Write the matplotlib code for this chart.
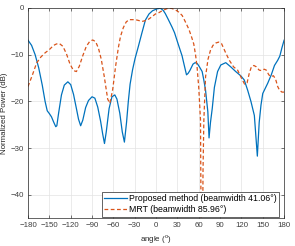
import matplotlib
matplotlib.use("Agg")
import matplotlib.pyplot as plt

# beam patterns (angle in deg, normalized power in dB)
prop_angle = [-180, -175, -170, -165, -160, -156, -153, -150, -147, -144, -141, -139.5,
              -137, -133, -129, -124, -120, -116, -112, -109, -106, -103, -99, -95,
              -90, -86, -82, -78, -75, -72.5, -70, -66, -62, -58, -55, -51, -47.5,
              -44.5, -41.5, -39, -36.5, -33, -29.5, -25, -20, -15, -10, -5, 1, 6,
              10, 13, 17, 22.5, 26, 30, 33, 36.5, 40, 42.8, 45, 47.5, 52, 55, 58,
              61, 64.8, 67, 69.5, 72.8, 74.5, 76.5, 79, 82, 86.5, 91, 98, 105, 112,
              119, 124, 128.8, 133.4, 138.2, 142.4, 145, 147.5, 150, 157, 162, 166.5,
              171, 174, 177, 180]
prop_db = [-6.9, -8.0, -10.0, -12.8, -16.5, -20.0, -22.0, -22.6, -23.3, -24.4, -25.4, -25.2,
           -22.5, -18.6, -16.5, -15.8, -16.4, -18.5, -21.5, -23.8, -25.2, -24.0, -21.3, -19.8,
           -19.0, -19.3, -21.2, -24.2, -27.0, -29.0, -26.5, -21.5, -19.0, -18.6, -19.5, -22.5, -26.5,
           -28.7, -24.5, -20.0, -16.3, -13.2, -10.8, -8.3, -5.4, -2.6, -1.3, -0.6, -0.2, -0.05,
           -0.5, -1.2, -2.4, -4.1, -5.3, -7.2, -8.6, -10.2, -12.5, -14.3, -14.0, -13.4, -12.0, -11.7, -11.9,
           -12.6, -13.6, -15.3, -17.5, -22.2, -27.8, -24.5, -21.5, -17.0, -13.6, -12.2, -11.7, -12.6, -13.6,
           -14.5, -15.4, -17.6, -20.0, -23.0, -31.7, -24.5, -20.8, -18.3, -16.1, -14.3, -12.3,
           -11.2, -10.3, -8.5, -6.9]

mrt_angle = [-180, -174, -168, -162, -156, -150, -144, -140, -136, -131, -126, -121, -116,
             -112, -108, -103, -98, -93, -89, -85, -81, -77, -73, -70, -68, -65, -61, -57,
             -53, -50, -46, -42, -38, -34, -29, -24, -20, -15, -10.5, -6, -1, 4, 8.5, 13,
             17.8, 22, 27.3, 32, 36.7, 41, 46, 49.5, 53, 55.5, 57.6, 60, 62.5, 64.5, 66,
             67.2, 69.6, 73, 76.6, 80, 84, 88, 92, 97.3, 103, 109, 114.7, 120, 124.5, 128,
             131, 134, 137.5, 141, 145, 148.5, 152, 155, 158.5, 161.6, 165, 168, 171, 173.6,
             177, 180]
mrt_db = [-16.8, -14.4, -11.8, -10.5, -9.6, -8.9, -8.0, -7.7, -7.6, -8.2, -9.8, -12.0, -13.4,
          -13.6, -12.5, -10.2, -8.2, -7.1, -6.85, -7.2, -8.6, -11.0, -14.5, -17.5, -19.5, -20.4, -17.5, -12.6,
          -8.5, -6.1, -4.2, -3.0, -2.5, -2.5, -2.5, -2.7, -2.9, -2.7, -2.4, -1.9, -1.3, -1.0, -0.6, -0.3,
          0.0, -0.1, -0.4, -0.9, -1.6, -2.9, -4.5, -6.0, -7.7, -10.0, -12.5, -17.0, -24.0, -80.0, -35.0,
          -24.0, -14.7, -11.0, -9.0, -8.0, -7.5, -7.3, -7.6, -9.4, -11.2, -12.6, -13.3, -15.0, -16.3, -16.0,
          -14.0, -12.6, -12.3, -12.6, -13.3, -13.4, -13.1, -13.3, -14.3, -14.7, -14.5, -15.2, -16.8, -17.6,
          -18.0, -18.0]

labels = ["Proposed method (beamwidth 41.06\u00b0)", "MRT (beamwidth 85.96\u00b0)"]
xticks = list(range(-180, 181, 30))
yticks = [0, -10, -20, -30, -40]

plt.rcParams['font.family'] = ['Liberation Sans', 'DejaVu Sans']
plt.rcParams['mathtext.fontset'] = 'custom'
plt.rcParams['mathtext.rm'] = 'Liberation Sans'

fig = plt.figure(figsize=(2.95, 2.46), dpi=100)
ax = fig.add_axes([0.095, 0.1126, 0.868, 0.855])

ax.plot(prop_angle, prop_db, color='#0072BD', lw=0.9, label=labels[0])
ax.plot(mrt_angle, mrt_db, color='#D95319', lw=0.9, ls=(0, (3, 2)), label=labels[1])

ax.set_xlim(-180, 180)
ax.set_ylim(-45, 0)
ax.set_xticks(xticks)
ax.set_yticks(yticks)
ax.tick_params(direction='in', length=2, width=0.5, labelsize=5.7, colors='#404040',
               top=True, right=True, pad=3)
ax.grid(True, color='#e3e3e3', lw=0.5)
ax.set_axisbelow(True)
for s in ax.spines.values():
    s.set_linewidth(0.5)
    s.set_color('#262626')

ax.set_xlabel(r'angle ($^{\rm o}$)', fontsize=5.7, color='#262626', labelpad=3)
ax.set_ylabel('Normalized Power (dB)', fontsize=5.7, color='#262626', labelpad=2)

leg = ax.legend(loc='lower right', bbox_to_anchor=(0.982, 0.007), fontsize=6.3,
                fancybox=False, framealpha=1, edgecolor='#262626', handlelength=2.6,
                handletextpad=0.25, borderpad=0.3, labelspacing=0.2, borderaxespad=0)
leg.get_frame().set_linewidth(0.5)

fig.savefig('out.png', dpi=100)
